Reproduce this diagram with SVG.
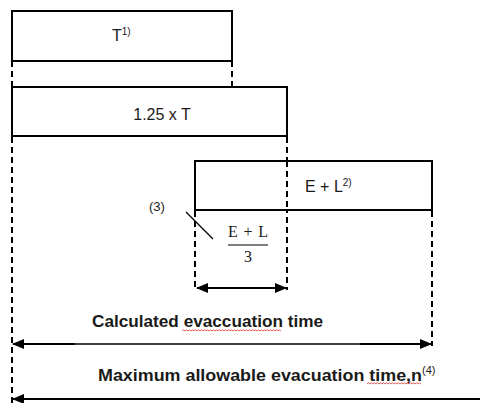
<svg xmlns="http://www.w3.org/2000/svg" width="480" height="403" viewBox="0 0 480 403">
  <defs>
    <marker id="head" viewBox="0 0 12 10" refX="11" refY="5" markerWidth="12" markerHeight="10" markerUnits="userSpaceOnUse" orient="auto-start-reverse">
      <path d="M0,0 L12,5 L0,10 Z" fill="#000"/>
    </marker>
    <style>
      .box { fill: #fff; stroke: #000; stroke-width: 2; }
      .dash { fill: none; stroke: #000; stroke-width: 2; stroke-dasharray: 6 4; }
      .dim { fill: none; stroke: #000; stroke-width: 2; }
      .lbl { font-family: "Liberation Sans", Arial, sans-serif; font-size: 15px; fill: #1a1a1a; }
      .sup { font-family: "Liberation Sans", Arial, sans-serif; font-size: 10px; fill: #1a1a1a; }
      .math { font-family: "Liberation Serif", "Times New Roman", serif; font-size: 16px; fill: #1a1a1a; }
      .bold { font-family: "Liberation Sans", Arial, sans-serif; font-size: 16px; font-weight: bold; fill: #1a1a1a; }
      .squiggle { fill: none; stroke: #e03030; stroke-width: 0.8; }
    </style>
  </defs>
  <rect width="480" height="403" fill="#fff"/>

  <g id="connectors">
    <!-- dashed extension lines -->
    <line class="dash" x1="12" y1="61" x2="12" y2="87"/>
    <line class="dash" x1="232" y1="61" x2="232" y2="87"/>
    <line class="dash" x1="12" y1="137" x2="12" y2="403"/>
    <line class="dash" x1="287" y1="137" x2="287" y2="290"/>
    <line class="dash" x1="195" y1="211" x2="195" y2="290"/>
    <line class="dash" x1="432" y1="211" x2="432" y2="346"/>
    <!-- dimension arrows -->
    <line class="dim" x1="197" y1="288" x2="286" y2="288" marker-start="url(#head)" marker-end="url(#head)"/>
    <line x1="13" y1="344" x2="431" y2="344" stroke="#000" stroke-width="1.3" marker-start="url(#head)" marker-end="url(#head)"/>
    <line x1="20" y1="344" x2="75" y2="344" stroke="#000" stroke-width="2"/>
    <line x1="360" y1="344" x2="425" y2="344" stroke="#000" stroke-width="2"/>
    <line class="dim" x1="13" y1="399" x2="480" y2="399" marker-start="url(#head)"/>
    <!-- leader for note (3) -->
    <line x1="186" y1="212" x2="213" y2="239" stroke="#000" stroke-width="1.2"/>
  </g>

  <g id="node-t">
    <rect class="box" x="12" y="11" width="220" height="50"/>
    <text class="lbl" x="112" y="41" style="font-size:16px">T<tspan class="sup" dy="-6">1)</tspan></text>
  </g>

  <g id="node-125t">
    <rect class="box" x="12" y="87" width="275" height="49"/>
    <text class="lbl" x="162" y="120" text-anchor="middle" style="font-size:16px">1.25 x T</text>
  </g>

  <g id="node-el">
    <rect class="box" x="195" y="161" width="237" height="49"/>
    <line class="dash" x1="287" y1="161" x2="287" y2="210"/>
    <text class="lbl" x="305" y="192" style="font-size:16px">E + L<tspan class="sup" dy="-6">2)</tspan></text>
  </g>

  <g id="node-fraction">
    <text class="math" x="248" y="237" text-anchor="middle" textLength="40" lengthAdjust="spacing">E + L</text>
    <line x1="228" y1="245" x2="268" y2="245" stroke="#000" stroke-width="1"/>
    <text class="math" x="248" y="262" text-anchor="middle">3</text>
  </g>

  <g id="note-3">
    <text class="lbl" x="149" y="211" style="font-size:13px">(3)</text>
  </g>

  <g id="label-calculated">
    <text class="bold" x="92" y="327" textLength="231" lengthAdjust="spacingAndGlyphs">Calculated evaccuation time</text>
    <path class="squiggle" d="M182,331 l1.5,-1.2 l1.5,1.2 l1.5,-1.2 l1.5,1.2 l1.5,-1.2 l1.5,1.2 l1.5,-1.2 l1.5,1.2 l1.5,-1.2 l1.5,1.2 l1.5,-1.2 l1.5,1.2 l1.5,-1.2 l1.5,1.2 l1.5,-1.2 l1.5,1.2 l1.5,-1.2 l1.5,1.2 l1.5,-1.2 l1.5,1.2 l1.5,-1.2 l1.5,1.2 l1.5,-1.2 l1.5,1.2 l1.5,-1.2 l1.5,1.2 l1.5,-1.2 l1.5,1.2 l1.5,-1.2 l1.5,1.2 l1.5,-1.2 l1.5,1.2 l1.5,-1.2 l1.5,1.2 l1.5,-1.2 l1.5,1.2 l1.5,-1.2 l1.5,1.2 l1.5,-1.2 l1.5,1.2 l1.5,-1.2 l1.5,1.2 l1.5,-1.2 l1.5,1.2 l1.5,-1.2 l1.5,1.2 l1.5,-1.2 l1.5,1.2 l1.5,-1.2 l1.5,1.2 l1.5,-1.2 l1.5,1.2 l1.5,-1.2 l1.5,1.2 l1.5,-1.2 l1.5,1.2 l1.5,-1.2 l1.5,1.2 l1.5,-1.2 l1.5,1.2 l1.5,-1.2 l1.5,1.2 l1.5,-1.2 l1.5,1.2 l1.5,-1.2 l1.5,1.2"/>
  </g>

  <g id="label-maximum">
    <text class="bold" x="98" y="381"><tspan textLength="324" lengthAdjust="spacingAndGlyphs">Maximum allowable evacuation time,n</tspan><tspan class="sup" style="font-weight:normal;font-size:11px" dy="-7">(4)</tspan></text>
    <path class="squiggle" d="M367,384 l1.5,-1.2 l1.5,1.2 l1.5,-1.2 l1.5,1.2 l1.5,-1.2 l1.5,1.2 l1.5,-1.2 l1.5,1.2 l1.5,-1.2 l1.5,1.2 l1.5,-1.2 l1.5,1.2 l1.5,-1.2 l1.5,1.2 l1.5,-1.2 l1.5,1.2 l1.5,-1.2 l1.5,1.2 l1.5,-1.2 l1.5,1.2 l1.5,-1.2 l1.5,1.2 l1.5,-1.2 l1.5,1.2 l1.5,-1.2 l1.5,1.2 l1.5,-1.2 l1.5,1.2 l1.5,-1.2 l1.5,1.2 l1.5,-1.2 l1.5,1.2 l1.5,-1.2 l1.5,1.2 l1.5,-1.2 l1.5,1.2"/>
  </g>
</svg>
